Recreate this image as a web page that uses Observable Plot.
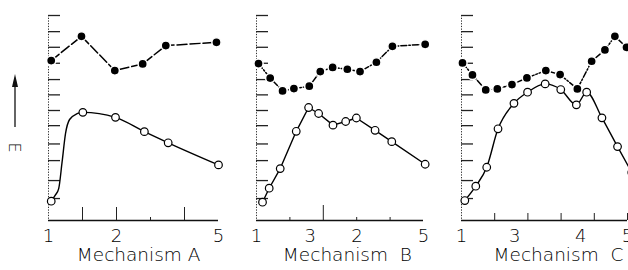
<!DOCTYPE html>
<html><head><meta charset="utf-8">
<script src="https://cdn.jsdelivr.net/npm/d3@7"></script>
<script src="https://cdn.jsdelivr.net/npm/@observablehq/plot@0.6"></script>
<style>
body{margin:0;background:#fff;}
#row{display:flex;width:628px;height:270px;overflow:hidden;}
#row svg{flex:none;display:block;max-width:none;}
</style></head><body><div id="row"></div>
<script>
// y-axis tick positions (energy, arbitrary units)
const yTicks = [1.0, 2.08, 3.28, 4.28, 5.38, 6.29, 7.23, 8.15, 9.13, 10.09, 11.03, 12.0];
const yMin = -0.32, yMax = 12;

// Mechanism A
const aFilledX = [0.08, 0.97, 1.95, 2.77, 3.45, 4.94];
const aFilledY = [9.29, 10.75, 8.69, 9.09, 10.19, 10.39];
const aOpenX = [0.08, 1.01, 1.97, 2.82, 3.52, 5.0];
const aOpenY = [0.84, 6.18, 5.88, 5.02, 4.35, 3.02];
const aShapeX = [0.2, 0.30, 0.40, 0.50, 0.62, 0.84];   // sigmoid curve between first two open points
const aShapeY = [1.2, 1.6, 3.2, 4.9, 5.75, 6.1];
const aTickVals = [0, 2, 5];
const aTickLabels = ["1", "2", "5"];
const aMajor = [1, 2, 4];
const aMinor = [3];

// Mechanism B
const bFilledX = [0.06, 0.41, 0.78, 1.12, 1.58, 1.91, 2.28, 2.72, 3.10, 3.59, 4.07, 5.05];
const bFilledY = [9.11, 8.24, 7.47, 7.61, 7.75, 8.63, 8.88, 8.77, 8.63, 9.19, 10.15, 10.27];
const bOpenX = [0.18, 0.38, 0.71, 1.19, 1.56, 1.86, 2.29, 2.67, 2.99, 3.55, 4.05, 5.05];
const bOpenY = [0.78, 1.62, 2.80, 5.04, 6.47, 6.11, 5.41, 5.63, 5.84, 5.10, 4.42, 3.06];
const bTickVals = [0, 1.61, 3.01, 5];
const bTickLabels = ["1", "3", "2", "5"];
const bMajor = [2];
const bMinor = [1, 3, 4];

// Mechanism C
const cFilledX = [0.03, 0.33, 0.73, 1.08, 1.52, 1.97, 2.54, 2.97, 3.49, 3.92, 4.32, 4.62, 4.97];
const cFilledY = [9.15, 8.43, 7.53, 7.59, 7.85, 8.25, 8.69, 8.45, 7.59, 9.25, 9.93, 10.75, 10.09];
const cOpenX = [0.10, 0.43, 0.76, 1.10, 1.58, 1.99, 2.52, 2.99, 3.46, 3.77, 4.23, 4.70, 5.13];
const cOpenY = [0.88, 1.74, 2.88, 5.19, 6.72, 7.39, 7.89, 7.55, 6.63, 7.39, 5.85, 4.12, 2.56];
const cTickVals = [0, 1.6, 3.59, 5];
const cTickLabels = ["1", "3", "4", "5"];
const cMajor = [1, 2, 3, 4, 5];
const cMinor = [];

const titles = ["Mechanism A", "Mechanism  B", "Mechanism  C"];
const titleX = [2.65, 2.72, 2.92];

const zip = (xs, ys) => xs.map((x, i) => ({x, y: ys[i]}));
const FONT = "font-family:'DejaVu Sans',sans-serif;font-weight:200;color:#000;background:white;";

function panel(o) {
  const marginTop = 15, marginBottom = 50, height = 270;
  const plotW = o.width - o.marginLeft - o.marginRight;
  const plotH = height - marginTop - marginBottom;
  const labelMap = new Map(o.tickVals.map((v, i) => [v, o.tickLabels[i]]));
  const filled = zip(o.filledX, o.filledY);
  const open = zip(o.openX, o.openY);
  const openLine = o.shape ? [open[0], ...o.shape, ...open.slice(1)] : open;
  return Plot.plot({
    width: o.width, height, marginTop, marginBottom,
    marginLeft: o.marginLeft, marginRight: o.marginRight,
    style: FONT,
    x: {domain: [0, 5], axis: null},
    y: {domain: [yMin, yMax], axis: null},
    marks: [
      Plot.ruleX([0], {stroke: "#333", strokeWidth: 1, strokeDasharray: "1.3,1.4"}),
      Plot.tickY(yTicks, {y: d => d, insetRight: plotW - 12, strokeWidth: 1.3, stroke: "#222"}),
      Plot.ruleY([yMin], {strokeWidth: 1.6, stroke: "#111"}),
      Plot.tickX(o.major, {x: d => d, insetTop: plotH - o.majorLen, strokeWidth: 1, stroke: "#222"}),
      Plot.tickX(o.minor, {x: d => d, insetTop: plotH - 3, strokeWidth: 1, stroke: "#222"}),
      Plot.axisX({ticks: o.tickVals, tickFormat: d => labelMap.get(d), tickSize: 0, tickPadding: 9, fontSize: 18, label: null, fill: "black"}),
      Plot.text([{x: o.titleX, t: o.title}], {x: "x", text: "t", frameAnchor: "bottom", dy: 40, fontSize: 18.5, fill: "black"}),
      Plot.line(filled, {x: "x", y: "y", strokeWidth: 1.5, strokeDasharray: o.dash, curve: o.filledCurve || "linear"}),
      Plot.line(openLine, {x: "x", y: "y", strokeWidth: 1.4, curve: o.openCurve || "linear"}),
      Plot.dot(filled, {x: "x", y: "y", r: 4.6, fill: "black", stroke: "white", strokeWidth: 1.5}),
      Plot.dot(open, {x: "x", y: "y", r: 3.8, fill: "white", stroke: "black", strokeWidth: 1.2})
    ]
  });
}

const row = document.getElementById("row");
const svgA = panel({width: 237, marginLeft: 48, marginRight: 19,
  filledX: aFilledX, filledY: aFilledY, openX: aOpenX, openY: aOpenY,
  shape: zip(aShapeX, aShapeY), openCurve: "monotone-x",
  tickVals: aTickVals, tickLabels: aTickLabels, major: aMajor, minor: aMinor, majorLen: 13,
  title: titles[0], titleX: titleX[0], dash: "10,3"});
const svgB = panel({width: 205, marginLeft: 19, marginRight: 19,
  filledX: bFilledX, filledY: bFilledY, openX: bOpenX, openY: bOpenY,
  tickVals: bTickVals, tickLabels: bTickLabels, major: bMajor, minor: bMinor, majorLen: 15,
  title: titles[1], titleX: titleX[1], dash: "6,2,1.5,2"});
const svgC = panel({width: 186, marginLeft: 19, marginRight: 1,
  filledX: cFilledX, filledY: cFilledY, openX: cOpenX, openY: cOpenY, openCurve: "monotone-x",
  tickVals: cTickVals, tickLabels: cTickLabels, major: cMajor, minor: cMinor, majorLen: 7,
  title: titles[2], titleX: titleX[2], dash: "6,2,1.5,2"});
row.append(svgA, svgB, svgC);

// Energy axis label with upward arrow (panel A left margin)
const sA = d3.select(svgA);
sA.append("text").attr("transform", "translate(15,147.5) rotate(90)")
  .attr("text-anchor", "middle").attr("dy", "0.35em")
  .attr("font-size", 16).attr("fill", "black").text("E");
sA.append("line").attr("x1", 15).attr("x2", 15).attr("y1", 127).attr("y2", 84)
  .attr("stroke", "#111").attr("stroke-width", 1.3);
sA.append("path").attr("d", "M15,74L12,87L18,87Z").attr("fill", "#111");
</script>
</body></html>
